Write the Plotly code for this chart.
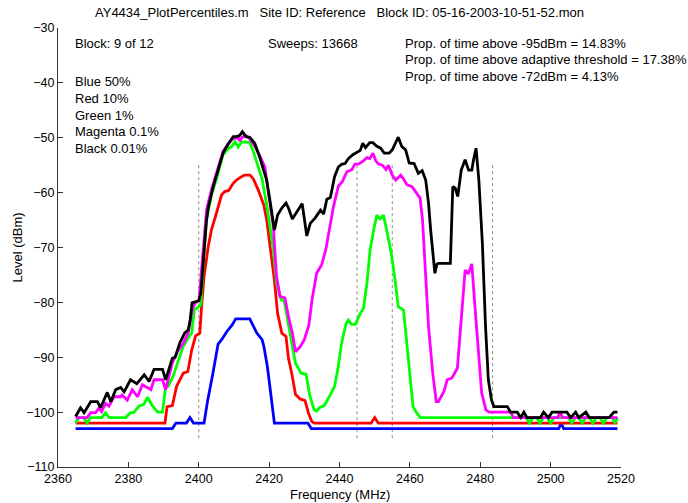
import plotly.graph_objects as go

# ---------------- data ----------------
blue_f = [2365, 2392.5, 2393.5, 2396.5, 2397.5, 2398.5, 2401.5, 2402.5, 2404, 2405.5, 2406.5, 2408,
          2409.5, 2410.5, 2414.5, 2416.5, 2418, 2418.5, 2419.5, 2420.5, 2421.5, 2431, 2432, 2502.3,
          2503, 2503.7, 2519]
blue_v = [-103, -103, -102, -102, -101, -102, -102, -98, -93, -87.6, -86.8, -85.3,
          -84.1, -83, -83, -85.6, -86.8, -88, -91.7, -97.2, -102, -102, -103, -103,
          -102, -103, -103]

red_f = [2365, 2390.4, 2391, 2392.5, 2393.7, 2395.6, 2396.9, 2398, 2399.1, 2400.3, 2400.8, 2401.5,
         2402.7, 2403.6, 2405, 2406.5, 2407.4, 2408.5, 2409.8, 2410.7, 2412.4, 2413, 2414.6, 2415.5,
         2416.9, 2417.9, 2418.5, 2419.3, 2420.2, 2421.5, 2422.4, 2423.6, 2424.8, 2425.5, 2426.5,
         2427.5, 2428.8, 2430.2, 2431.2, 2432.1, 2432.8, 2449, 2450, 2451, 2519]
red_v = [-102, -102, -99, -98.8, -95.3, -92.9, -92.6, -88.7, -86.1, -85.6, -80.8, -75.3,
         -69.8, -66.8, -63.8, -60.4, -59.8, -59.6, -58.3, -57.7, -57, -56.8, -56.8, -57.5,
         -59.5, -61.3, -62.3, -64.9, -69.8, -75.9, -82, -85.6, -86.2, -90.2, -93.2,
         -96.8, -97.6, -97.9, -100.2, -101.7, -102, -102, -101, -102, -102]

green_f = [2365, 2366, 2367.3, 2368.3, 2369.2, 2372.5, 2373.5, 2374.5, 2379.2, 2380.6, 2381.5, 2383,
           2384.4, 2385.4, 2386.9, 2388.3, 2389.7, 2390.6, 2391.3, 2392.7, 2394.4, 2395.6, 2397,
           2398, 2398.7, 2400.6, 2401.3, 2402.2, 2403.6, 2405.1, 2406.9, 2408.5, 2409.4, 2410.3,
           2411.2, 2412.1, 2414.5, 2415.5, 2416.9, 2418, 2419.5, 2421.2, 2422.1, 2423.4, 2424.3,
           2425.5, 2426.6, 2427.5, 2429.1, 2430.5, 2431.5, 2432.8, 2433.5, 2434.3, 2435.7, 2437.4,
           2438.6, 2439.5, 2440.6, 2441.9, 2442.5, 2443.4, 2444.5, 2445.9, 2446.8, 2447.8, 2448.7,
           2449.7, 2450.6, 2451.5, 2452.5, 2453.4, 2454.7, 2455.8, 2456.7, 2458.2, 2459.2, 2460.1,
           2460.9, 2462, 2463, 2493, 2494, 2495, 2496, 2497, 2498, 2499, 2500, 2501, 2505, 2506,
           2507, 2508, 2509, 2510, 2511, 2512, 2513, 2514, 2515, 2516, 2517.5, 2518.3, 2519]
green_v = [-102, -101, -101, -102, -101, -101, -100.1, -101, -101, -100.1, -100.1, -98.9,
           -98.6, -97.3, -98.9, -100, -100, -95.3, -95.3, -93.5, -90.2, -88, -86.5,
           -85.6, -81.4, -80.5, -72.9, -65, -60.4, -57.4, -53.1, -51.9, -51.6, -50.7,
           -51.7, -50.8, -50.8, -52.5, -55.3, -57.5, -63, -70.4, -76.5, -79.5, -79.8,
           -84.4, -88, -91.1, -92.9, -93.1, -96.8, -99.6, -99.8, -99.2, -98.8, -96.8,
           -95.3, -92.3, -87.4, -83.8, -83.2, -84, -84, -82, -81.1, -76.5, -70.4,
           -66.8, -64.1, -64.8, -64.1, -66.8, -71, -75.9, -80.8, -81.4, -88, -94.7,
           -99, -100.2, -101, -101, -102, -101, -101, -102, -101, -101, -102, -101, -101, -102,
           -101, -101, -102, -101, -101, -102, -101, -101, -102, -101, -101, -102, -101]

magenta_f = [2365, 2368.3, 2369.3, 2370.7, 2371.6, 2372.4, 2373.5, 2374.5, 2375.9, 2377.8, 2378.2,
             2379.7, 2381.1, 2382.6, 2384, 2386.4, 2387.3, 2389.7, 2390.6, 2392.5, 2394.2, 2395.6,
             2397, 2398.2, 2399.1, 2400.1, 2400.8, 2402.2, 2403.6, 2405.1, 2406.9, 2408.5, 2409.8,
             2411.2, 2411.6, 2412.4, 2413.4, 2414.5, 2415.9, 2417.4, 2418.8, 2419.8, 2421.2, 2422.1,
             2423.1, 2424.5, 2425.5, 2426.6, 2427.5, 2428.8, 2430, 2431.3, 2432.2, 2433.5, 2434.9,
             2436.1, 2437.3, 2438.3, 2439.7, 2440.8, 2442.1, 2443.5, 2444.4, 2445.4, 2446.8, 2447.8,
             2448.6, 2449.5, 2450.3, 2451.1, 2452.2, 2453.2, 2453.9, 2455, 2456, 2457.4, 2458.3,
             2459.2, 2460.6, 2461.7, 2462.9, 2463.6, 2464.4, 2465.3, 2466.5, 2467.5, 2468.1, 2469.7,
             2470.6, 2471.9, 2473.5, 2474.5, 2475.7, 2476.6, 2477.6, 2478.5, 2479.5, 2480.4, 2481.6,
             2482.5, 2488.6, 2489.5, 2502, 2502.7, 2503.4, 2519]
magenta_v = [-101, -101, -100.1, -100.1, -99.3, -99.9, -98.4, -98.9, -97.2, -97.2, -96.9,
             -97.8, -95.9, -97.2, -95, -95.9, -94.1, -94.1, -95.9, -91, -88.7, -87.4,
             -85.6, -81.2, -80, -79.7, -74, -63.2, -59.5, -56.5, -52.5, -51, -50.1,
             -50, -50.6, -49.9, -49.6, -50.2, -51.5, -53.4, -55.3, -60.1, -66.2, -75.3,
             -78.9, -79.2, -82.6, -85.6, -89, -88.1, -86.8, -84.1, -79.5, -74.7, -73.2,
             -70.4, -66.2, -62.5, -58.8, -58, -56.2, -55.8, -54.8, -54.8, -54.2, -53.6,
             -53.8, -52.8, -54.2, -54.8, -55, -55.8, -55, -56.8, -57.7, -56.8, -57.6,
             -58.6, -58.9, -59.8, -61, -65, -73.5, -84.4, -92.9, -98.1, -98.1, -96.2,
             -94.1, -93.8, -92, -83.8, -74.1, -74.8, -73, -80.8, -89.3, -96.5, -99.6,
             -100, -100, -101, -101, -100, -101, -101]

black_f = [2365, 2366.4, 2367.4, 2369.3, 2371.2, 2372.1, 2374, 2375, 2376.4, 2377.8, 2378.8, 2380.6,
           2382.4, 2384.5, 2385.9, 2387.3, 2389.7, 2390.6, 2392.5, 2393.3, 2394.6, 2396, 2397,
           2397.5, 2398.1, 2400, 2400.6, 2401.3, 2402.2, 2402.8, 2404.1, 2405.5, 2406.9, 2408.5,
           2409.8, 2410.7, 2411.6, 2412.4, 2413.4, 2414.5, 2415.9, 2417.4, 2418.3, 2419.3, 2420.2,
           2421.5, 2422.4, 2423.6, 2424.8, 2425.5, 2426.6, 2427.8, 2429.4, 2430.7, 2431.7, 2433.1,
           2434.6, 2435.5, 2436.4, 2437.4, 2438.6, 2439.7, 2440.7, 2441.6, 2442.5, 2443.8, 2444.9,
           2445.9, 2446.6, 2447.4, 2448.6, 2449.5, 2450.5, 2451.7, 2452.7, 2454.1, 2455, 2455.8,
           2456.7, 2457.7, 2458.8, 2459.8, 2461.2, 2462.4, 2463.5, 2464.5, 2465.3, 2465.9, 2466.6,
           2467.1, 2467.7, 2468.1, 2471.5, 2472.2, 2472.9, 2473.6, 2474.6, 2475.7, 2476.7, 2477.6,
           2478.1, 2478.8, 2479.6, 2480.6, 2481.5, 2482.3, 2483.2, 2483.9, 2487.7, 2488.6, 2490.5,
           2491.5, 2492.4, 2493.3, 2497.1, 2498, 2499.4, 2500.4, 2504.6, 2505.7, 2507.1, 2508,
           2510, 2511, 2516.6, 2518, 2519]
black_v = [-100.8, -99.2, -100.1, -98.1, -98.1, -99.2, -96.4, -98.1, -95.9, -95.5, -96.3, -94.1,
           -94.8, -93.2, -94.4, -92.2, -92.2, -94.1, -90.2, -90, -87.4, -85.6, -85,
           -83.5, -80.1, -79.7, -78.3, -72, -65, -62.5, -58.9, -55.9, -52.8, -51,
           -49.8, -49.8, -49.6, -48.9, -49.8, -49.9, -51, -53.7, -55.6, -57.7, -61.3,
           -66.8, -64.1, -62.8, -61.9, -62.8, -64.8, -63.6, -62, -67.9, -65.6, -64.6,
           -63.2, -63.9, -61.2, -60.9, -57.1, -55.3, -54.8, -54.7, -53.8, -53.1, -52.7,
           -52.3, -51, -51.8, -50.9, -50.9, -51.5, -51.9, -52.8, -52.8, -52.2, -51.1,
           -49.9, -51.6, -52.2, -54.6, -54.7, -56.5, -56, -57.7, -61.9, -66.8, -72.3,
           -74.7, -73, -72.9, -72.9, -58.9, -59.2, -60.7, -55.9, -54, -55.9, -55.9,
           -54, -51.9, -57.7, -69.2, -84.4, -94.1, -97.8, -99, -99, -100, -100,
           -101, -100, -101, -101, -100, -101, -100, -100, -101, -100, -101,
           -100, -101, -101, -100, -100]

band_edges = [2400, 2445, 2455, 2483.5]
band_edge_levels = [-55, -105]

title_text = "AY4434_PlotPercentiles.m   Site ID: Reference   Block ID: 05-16-2003-10-51-52.mon"
legend_lines = ["Blue 50%", "Red 10%", "Green 1%", "Magenta 0.1%", "Black 0.01%"]
legend_levels = [-39.7, -42.85, -45.9, -48.95, -52.0]
prop_lines = ["Prop. of time above -95dBm = 14.83%",
              "Prop. of time above adaptive threshold = 17.38%",
              "Prop. of time above -72dBm = 4.13%"]
prop_levels = [-32.9, -35.8, -38.75]

FONT = "Liberation Sans, Arial, sans-serif"
TXT = 13

fig = go.Figure()

for f in band_edges:
    fig.add_trace(go.Scatter(x=[f, f], y=band_edge_levels, mode="lines",
                             line=dict(color="#8a8a8a", width=1, dash="dot"),
                             hoverinfo="skip", showlegend=False))

series = [(blue_f, blue_v, "#0000ff"), (red_f, red_v, "#ff0000"), (green_f, green_v, "#00ff00"),
          (magenta_f, magenta_v, "#ff00ff"), (black_f, black_v, "#000000")]
for fx, fy, col in series:
    fig.add_trace(go.Scatter(x=fx, y=fy, mode="lines", line=dict(color=col, width=2.8),
                             showlegend=False))

ann = []
ann.append(dict(x=2364.3, y=-32.9, text="Block: 9 of 12"))
ann.append(dict(x=2419.0, y=-32.9, text="Sweeps: 13668"))
for t, lv in zip(prop_lines, prop_levels):
    ann.append(dict(x=2458.0, y=lv, text=t))
for t, lv in zip(legend_lines, legend_levels):
    ann.append(dict(x=2364.3, y=lv, text=t))
annotations = [dict(a, xref="x", yref="y", xanchor="left", yanchor="middle", showarrow=False,
                    font=dict(family=FONT, size=TXT, color="black")) for a in ann]
annotations.append(dict(text=title_text, xref="paper", yref="paper", x=0.5, y=1, yshift=16,
                        xanchor="center", yanchor="middle", showarrow=False,
                        font=dict(family=FONT, size=TXT, color="black")))
annotations.append(dict(text="Frequency (MHz)", xref="paper", yref="paper", x=0.5, y=0, yshift=-27,
                        xanchor="center", yanchor="middle", showarrow=False,
                        font=dict(family=FONT, size=TXT, color="black")))
annotations.append(dict(text="Level (dBm)", xref="paper", yref="paper", x=0, y=0.5, xshift=-41,
                        xanchor="center", yanchor="middle", textangle=-90, showarrow=False,
                        font=dict(family=FONT, size=TXT, color="black")))

fig.update_layout(
    width=688, height=503,
    margin=dict(l=58, r=67, t=28, b=36, pad=0),
    paper_bgcolor="white", plot_bgcolor="white",
    annotations=annotations,
    showlegend=False,
    font=dict(family=FONT, size=12, color="black"),
)
fig.update_xaxes(range=[2360, 2520], tick0=2360, dtick=20, ticks="inside", ticklen=5,
                 tickcolor="#333", showline=True, linecolor="#333", linewidth=1,
                 showgrid=False, zeroline=False, mirror=False,
                 tickfont=dict(family=FONT, size=12.5, color="black"))
fig.update_yaxes(range=[-110, -30], tick0=-110, dtick=10, ticks="inside", ticklen=5,
                 tickcolor="#333", showline=True, linecolor="#333", linewidth=1,
                 showgrid=False, zeroline=False, mirror=False,
                 tickfont=dict(family=FONT, size=12.5, color="black"))

fig.write_html("out.html")
